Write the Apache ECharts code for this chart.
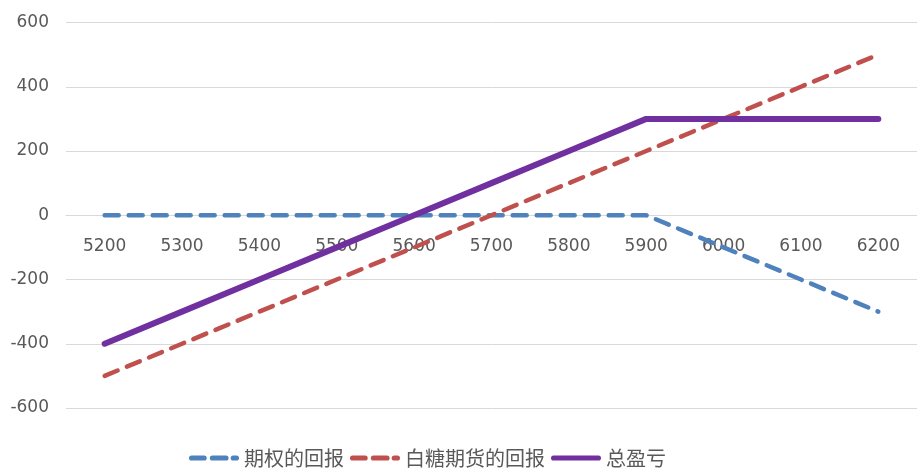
<!DOCTYPE html>
<html>
<head>
<meta charset="utf-8">
<script src="https://cdn.jsdelivr.net/npm/echarts@6/dist/echarts.min.js"></script>
<style>
html,body{margin:0;padding:0;background:#fff;}
#chart{width:917px;height:468px;}
</style>
</head>
<body>
<div id="chart"></div>
<script>
var categories = ['5200','5300','5400','5500','5600','5700','5800','5900','6000','6100','6200'];
var optionPayoff = [0, 0, 0, 0, 0, 0, 0, 0, -100, -200, -300];
var futuresPayoff = [-500, -400, -300, -200, -100, 0, 100, 200, 300, 400, 500];
var totalPnl = [-400, -300, -200, -100, 0, 100, 200, 300, 300, 300, 300];
var seriesNames = ['期权的回报', '白糖期货的回报', '总盈亏'];

var dashedIcon = 'path://M2.5,0 H14.5 A2.5,2.5 0 0 1 14.5,5 H2.5 A2.5,2.5 0 0 1 2.5,0 Z ' +
  'M22.5,0 H35.5 A2.5,2.5 0 0 1 35.5,5 H22.5 A2.5,2.5 0 0 1 22.5,0 Z ' +
  'M42.5,0 H45.5 A2.5,2.5 0 0 1 45.5,5 H42.5 A2.5,2.5 0 0 1 42.5,0 Z';
var solidIcon = 'path://M2.5,0 H45.5 A2.5,2.5 0 0 1 45.5,5 H2.5 A2.5,2.5 0 0 1 2.5,0 Z';

var gridTop = 22.5, gridHeight = 385.5;
var chart = echarts.init(document.getElementById('chart'));
var font = "'Noto Sans CJK SC', 'DejaVu Sans', sans-serif";
chart.setOption({
  animation: false,
  backgroundColor: '#ffffff',
  grid: { left: 66, right: -5, top: gridTop, height: gridHeight, containLabel: false },
  legend: {
    left: 184, top: 443,
    itemWidth: 50, itemHeight: 5.5, itemGap: 6,
    textStyle: { color: '#595959', fontSize: 20, fontFamily: font },
    data: [
      { name: seriesNames[0], icon: dashedIcon, itemStyle: { color: '#4F81BD' } },
      { name: seriesNames[1], icon: dashedIcon, itemStyle: { color: '#C0504D' } },
      { name: seriesNames[2], icon: solidIcon, itemStyle: { color: '#7030A0' } }
    ]
  },
  xAxis: {
    type: 'category',
    data: categories,
    boundaryGap: true,
    offset: -gridHeight / 2,
    z: 1,
    axisLine: { onZero: false, lineStyle: { color: '#d9d9d9', width: 1 } },
    axisTick: { show: false },
    axisLabel: { color: '#595959', fontSize: 17, fontFamily: "'DejaVu Sans', sans-serif", margin: 23 },
    splitLine: { show: false }
  },
  yAxis: {
    type: 'value',
    min: -600, max: 600, interval: 200,
    axisLine: { show: false },
    axisTick: { show: false },
    axisLabel: { color: '#595959', fontSize: 17, fontFamily: "'DejaVu Sans', sans-serif", margin: 17 },
    splitLine: { lineStyle: { color: '#d9d9d9', width: 1 } }
  },
  series: [
    {
      name: seriesNames[0], type: 'line', data: optionPayoff, symbol: 'none', z: 2,
      itemStyle: { color: '#4F81BD' },
      lineStyle: { color: '#4F81BD', width: 4.5, type: [14, 10], cap: 'round', join: 'round' }
    },
    {
      name: seriesNames[1], type: 'line', data: futuresPayoff, symbol: 'none', z: 3,
      itemStyle: { color: '#C0504D' },
      lineStyle: { color: '#C0504D', width: 4.5, type: [14, 10], cap: 'round', join: 'round' }
    },
    {
      name: seriesNames[2], type: 'line', data: totalPnl, symbol: 'none', z: 4,
      itemStyle: { color: '#7030A0' },
      lineStyle: { color: '#7030A0', width: 6, cap: 'round', join: 'round' }
    }
  ]
});
</script>
</body>
</html>
